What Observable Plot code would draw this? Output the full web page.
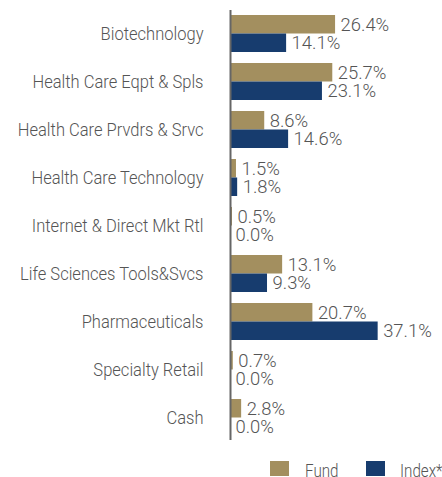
<!DOCTYPE html>
<html>
<head>
<meta charset="utf-8">
<script src="https://cdn.jsdelivr.net/npm/d3@7"></script>
<script src="https://cdn.jsdelivr.net/npm/@observablehq/plot@0.6"></script>
<style>
  html, body { margin: 0; padding: 0; background: #fff; }
  body { width: 442px; height: 477px; overflow: hidden; font-family: Roboto, sans-serif; font-weight: 300; }
  #legend { position: relative; height: 32px; font-size: 19px; color: #555; }
  .sw { position: absolute; width: 19px; height: 15px; }
  .lt { position: absolute; line-height: 19px; transform: scaleX(0.8); transform-origin: left top; white-space: nowrap; }
</style>
</head>
<body>
<div id="chart"></div>
<div id="legend"></div>
<script>
const categories = [
  "Biotechnology",
  "Health Care Eqpt & Spls",
  "Health Care Prvdrs & Srvc",
  "Health Care Technology",
  "Internet & Direct Mkt Rtl",
  "Life Sciences Tools&Svcs",
  "Pharmaceuticals",
  "Specialty Retail",
  "Cash"
];
const fundValues  = [26.4, 25.7, 8.6, 1.5, 0.5, 13.1, 20.7, 0.7, 2.8];
const indexValues = [14.1, 23.1, 14.6, 1.8, 0.0, 9.3, 37.1, 0.0, 0.0];
const seriesNames = ["Fund", "Index*"];
const colors = ["#A38F5F", "#173C6E"];

const fund = categories.map((c, i) => ({category: c, value: fundValues[i]}));
const index = categories.map((c, i) => ({category: c, value: indexValues[i]}));
const fmt = v => v.toFixed(1) + "%";
const textColor = "#555555";
const half = 18.5;

const chart = Plot.plot({
  width: 442,
  height: 450,
  marginLeft: 230,
  marginRight: 13,
  marginTop: 10,
  marginBottom: 10,
  style: {fontFamily: "Roboto, sans-serif", fontWeight: 300, fontSize: "18px", color: textColor, background: "white"},
  x: {domain: [0, 50], axis: null},
  y: {domain: categories, paddingInner: 0.23, paddingOuter: 0.0825, label: null, axis: null},
  marks: [
    Plot.barX(fund, {x: "value", y: "category", fill: colors[0], insetBottom: half}),
    Plot.barX(index, {x: "value", y: "category", fill: colors[1], insetTop: half}),
    Plot.text(fund, {x: "value", y: "category", text: d => fmt(d.value), dy: -half/2, dx: 5, textAnchor: "start", fill: textColor, fontSize: 19, fontWeight: 300, className: "val"}),
    Plot.text(index, {x: "value", y: "category", text: d => fmt(d.value), dy: half/2, dx: 5, textAnchor: "start", fill: textColor, fontSize: 19, fontWeight: 300, className: "val"}),
    Plot.ruleX([0], {stroke: "#666", strokeWidth: 2}),
    Plot.axisY({tickSize: 0, tickPadding: 27, fontSize: 19, fontWeight: 300, fill: textColor, label: null, className: "cat"})
  ]
});
function squeezeText(sel, k) {
  chart.querySelectorAll(sel).forEach(t => {
    const tr = t.getAttribute("transform") || "";
    t.setAttribute("transform", tr + ` scale(${k},1)`);
  });
}
squeezeText(".val text", 0.97);
squeezeText(".cat text", 0.87);
document.getElementById("chart").appendChild(chart);

const legend = document.getElementById("legend");
const pos = [[270, 305], [366, 400]];
seriesNames.forEach((name, i) => {
  const sw = document.createElement("div");
  sw.className = "sw";
  sw.style.left = pos[i][0] + "px";
  sw.style.top = "11px";
  sw.style.background = colors[i];
  legend.appendChild(sw);
  const t = document.createElement("div");
  t.className = "lt";
  t.style.left = pos[i][1] + "px";
  t.style.top = "11px";
  t.textContent = name;
  legend.appendChild(t);
});
</script>
</body>
</html>
